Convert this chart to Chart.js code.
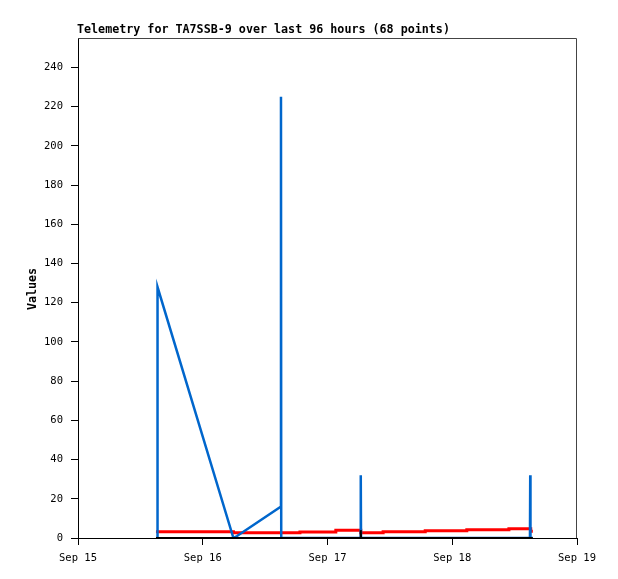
<!DOCTYPE html>
<html>
<head>
<meta charset="utf-8">
<script src="https://cdn.jsdelivr.net/npm/chart.js@4/dist/chart.umd.min.js"></script>
<style>
  body { margin: 0; background: #fff; }
  canvas { display: block; }
</style>
</head>
<body>
<canvas id="telemetryChart" width="618" height="579"></canvas>
<script>
// DATA (hours since Sep 15 00:00)
const xLabels = ["Sep 15", "Sep 16", "Sep 17", "Sep 18", "Sep 19"];

const blueTimes  = [15.25, 15.3, 29.9, 30.6, 39.0, 39.05, 39.1, 54.35, 54.4, 54.45, 86.95, 87.0, 87.05, 87.5];
const blueValues = [0, 128, 0, 1, 16, 225, 0, 0, 32, 0, 0, 32, 0, 0];

const redTimes  = [15.0, 29.9, 42.7, 49.6, 54.4, 58.7, 66.8, 74.8, 82.9, 87.1, 87.5];
const redValues = [3.2, 2.7, 3.0, 3.9, 2.7, 3.2, 3.7, 4.2, 4.75, 3.4, 3.4];

const blackTimes  = [15.0, 54.35, 54.4, 54.45, 87.5];
const blackValues = [0, 0, 4, 0, 0];

const toPoints = (xs, ys) => xs.map((x, i) => ({ x: x, y: ys[i] }));

// TITLES + FRAME
const extras = {
  id: "extras",
  afterDraw(chart) {
    const ctx = chart.ctx;
    const a = chart.chartArea;
    ctx.save();
    ctx.strokeStyle = "#444";
    ctx.lineWidth = 1;
    ctx.beginPath();
    ctx.moveTo(a.left, a.top + 0.5);
    ctx.lineTo(a.right - 0.5, a.top + 0.5);
    ctx.lineTo(a.right - 0.5, a.bottom);
    ctx.stroke();

    ctx.fillStyle = "#000";
    ctx.font = "bold 11.7px 'DejaVu Sans Mono'";
    ctx.textBaseline = "alphabetic";
    ctx.textAlign = "left";
    ctx.fillText("Telemetry for TA7SSB-9 over last 96 hours (68 points)", 77, 33);

    ctx.translate(36, 289);
    ctx.rotate(-Math.PI / 2);
    ctx.textAlign = "center";
    ctx.fillText("Values", 0, 0);
    ctx.restore();
  }
};

const ctx = document.getElementById("telemetryChart").getContext("2d");
new Chart(ctx, {
  type: "line",
  data: {
    datasets: [
      {
        data: toPoints(blackTimes, blackValues),
        borderColor: "#000",
        borderWidth: 2,
        order: 0
      },
      {
        data: toPoints(blueTimes, blueValues),
        borderColor: "#0066cc",
        borderWidth: 2.5,
        order: 1
      },
      {
        data: toPoints(redTimes, redValues),
        borderColor: "#ff0000",
        borderWidth: 3,
        stepped: true,
        order: 2
      }
    ]
  },
  options: {
    responsive: false,
    animation: false,
    layout: { padding: { top: 38, right: 41, left: 0, bottom: 0 } },
    elements: { point: { radius: 0 }, line: { tension: 0 } },
    plugins: { legend: { display: false }, tooltip: { enabled: false } },
    scales: {
      x: {
        type: "linear",
        min: 0,
        max: 96,
        afterFit: s => { s.height = 41; },
        ticks: {
          stepSize: 24,
          maxRotation: 0,
          padding: 7,
          color: "#000",
          font: { family: "DejaVu Sans Mono", size: 10.5 },
          callback: v => xLabels[v / 24]
        },
        grid: { drawOnChartArea: false, tickLength: 7, color: "#000" },
        border: { color: "#000", width: 1 }
      },
      y: {
        min: 0,
        max: 255,
        afterFit: s => { s.width = 78; },
        afterBuildTicks: s => { s.ticks = s.ticks.filter(t => t.value % 20 === 0); },
        ticks: {
          stepSize: 20,
          padding: 8,
          color: "#000",
          font: { family: "DejaVu Sans Mono", size: 10.5 }
        },
        grid: { drawOnChartArea: false, tickLength: 7, color: "#000" },
        border: { color: "#000", width: 1 }
      }
    }
  },
  plugins: [extras]
});
</script>
</body>
</html>
